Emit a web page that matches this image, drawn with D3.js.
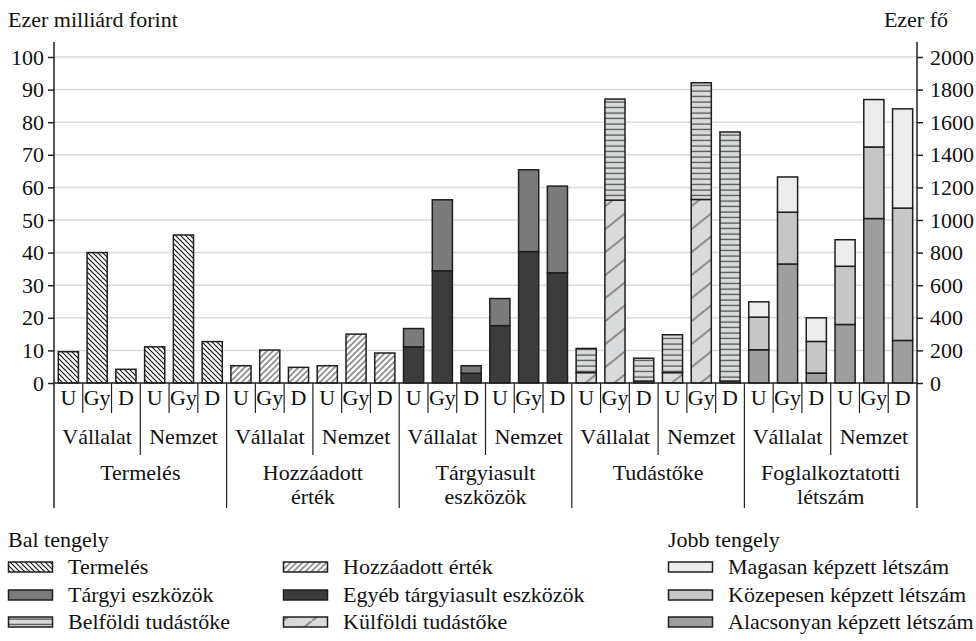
<!DOCTYPE html>
<html>
<head>
<meta charset="utf-8">
<script src="https://cdn.jsdelivr.net/npm/d3@7"></script>
<style>
  body { margin: 0; background: #fff; }
  svg text { font-family: "Liberation Serif", "Times New Roman", Tinos, "DejaVu Serif", serif; font-size: 22px; fill: #111; }
</style>
</head>
<body>
<div id="chart"></div>
<script>
// categories
const measures = [["Termelés"], ["Hozzáadott", "érték"], ["Tárgyiasult", "eszközök"], ["Tudástőke"], ["Foglalkoztatotti", "létszám"]]
const units = ["Vállalat", "Nemzet"]
const sizes = ["U", "Gy", "D"]
const leftTicks = [0, 10, 20, 30, 40, 50, 60, 70, 80, 90, 100]
const rightTicks = [0, 200, 400, 600, 800, 1000, 1200, 1400, 1600, 1800, 2000]

// values, order: Vállalat U, Gy, D, Nemzet U, Gy, D
const termeles = [9.6, 40.0, 4.2, 11.1, 45.4, 12.7]
const hozzaadott = [5.3, 10.1, 4.8, 5.3, 15.0, 9.2]
const egyebTargyi = [11.1, 34.4, 3.0, 17.6, 40.3, 33.8]
const targyiEszkoz = [5.6, 21.8, 2.3, 8.3, 25.1, 26.6]
const kulfoldi = [3.2, 56.1, 0.6, 3.2, 56.3, 0.6]
const belfoldi = [7.4, 31.0, 7.0, 11.6, 35.8, 76.4]
const alacsony = [204, 730, 61, 359, 1009, 261]
const kozepes = [200, 318, 194, 357, 439, 812]
const magas = [94, 216, 145, 163, 291, 609]

// stacks per measure, bottom first
const groups = [
  { axis: "left", series: [["Termelés", termeles]] },
  { axis: "left", series: [["Hozzáadott érték", hozzaadott]] },
  { axis: "left", series: [["Egyéb tárgyiasult eszközök", egyebTargyi], ["Tárgyi eszközök", targyiEszkoz]] },
  { axis: "left", series: [["Külföldi tudástőke", kulfoldi], ["Belföldi tudástőke", belfoldi]] },
  { axis: "right", series: [["Alacsonyan képzett létszám", alacsony], ["Közepesen képzett létszám", kozepes], ["Magasan képzett létszám", magas]] }
]

const legendCols = [
  { title: "Bal tengely", items: ["Termelés", "Tárgyi eszközök", "Belföldi tudástőke"] },
  { title: null, items: ["Hozzáadott érték", "Egyéb tárgyiasult eszközök", "Külföldi tudástőke"] },
  { title: "Jobb tengely", items: ["Magasan képzett létszám", "Közepesen képzett létszám", "Alacsonyan képzett létszám"] }
]

const fills = {
  "Termelés": "url(#p-termeles)",
  "Hozzáadott érték": "url(#p-hozza)",
  "Tárgyi eszközök": "#7b7b7b",
  "Egyéb tárgyiasult eszközök": "#3c3c3c",
  "Belföldi tudástőke": "url(#p-belfold)",
  "Külföldi tudástőke": "url(#p-kulfold)",
  "Magasan képzett létszám": "#ececec",
  "Közepesen képzett létszám": "#c6c6c6",
  "Alacsonyan képzett létszám": "#9e9e9e"
}

const width = 976, height = 641
const left = 54, right = 917, y0 = 383, y100 = 57, axisTop = 42, tableBottom = 508

const svg = d3.select("#chart").append("svg").attr("width", width).attr("height", height)

// patterns
const defs = svg.append("defs")
function pattern(id, w, h, bg, d, stroke, sw) {
  const p = defs.append("pattern").attr("id", id)
      .attr("patternUnits", "userSpaceOnUse").attr("width", w).attr("height", h)
  p.append("rect").attr("width", w).attr("height", h).attr("fill", bg)
  p.append("path").attr("d", d).attr("stroke", stroke).attr("stroke-width", sw).attr("fill", "none")
}
pattern("p-termeles", 5, 5, "#fff", "M-1,-1L6,6M-1,4L1,6M4,-1L6,1", "#111", 1.1)
pattern("p-hozza", 6, 6, "#fff", "M-1,7L7,-1M-1,1L1,-1M5,7L7,5", "#8c8c8c", 1.7)
pattern("p-kulfold", 28.77, 23, "#d9dadb", "M-2,24.6L30.77,-1.6", "#8a8a8a", 2)
pattern("p-belfold", 4, 5.5, "#d9dadb", "M0,3H4", "#2a2a2a", 1)

const keys = []
measures.forEach((m, mi) => units.forEach((u, ui) => sizes.forEach((s, si) => keys.push(mi + "-" + ui + "-" + si))))

const x = d3.scaleBand().domain(keys).range([left, right]).paddingInner(0.3).paddingOuter(0.15)
const step = x.step()
const yL = d3.scaleLinear().domain([0, 100]).range([y0, y100])
const yR = d3.scaleLinear().domain([0, 2000]).range([y0, y100])

// grid
svg.append("g")
    .attr("stroke", "#dadada")
    .attr("stroke-width", 1.5)
  .selectAll("line")
  .data(leftTicks.filter(d => d > 0))
  .enter().append("line")
    .attr("x1", left).attr("x2", right)
    .attr("y1", d => yL(d)).attr("y2", d => yL(d))

// bars
groups.forEach((g, mi) => {
  const y = g.axis === "left" ? yL : yR
  const rows = d3.range(6).map(i => {
    const r = { key: mi + "-" + Math.floor(i / 3) + "-" + (i % 3) }
    g.series.forEach(([name, vals]) => r[name] = vals[i])
    return r
  })
  const stack = d3.stack().keys(g.series.map(s => s[0]))(rows)
  svg.append("g")
    .selectAll("g")
    .data(stack)
    .enter().append("g")
      .attr("fill", d => fills[d.key])
      .attr("stroke", "#1e1e1e")
      .attr("stroke-width", 1.5)
    .selectAll("rect")
    .data(d => d)
    .enter().append("rect")
      .attr("x", d => x(d.data.key))
      .attr("width", x.bandwidth())
      .attr("y", d => y(d[1]))
      .attr("height", d => y(d[0]) - y(d[1]))
})

// axes
const axL = svg.append("g")
    .attr("transform", "translate(" + left + ",0)")
    .call(d3.axisLeft(yL).tickValues(leftTicks).tickSize(6).tickPadding(4))
axL.select(".domain").remove()
axL.selectAll("line").attr("stroke", "#222").attr("stroke-width", 1.5)

const axR = svg.append("g")
    .attr("transform", "translate(" + right + ",0)")
    .call(d3.axisRight(yR).tickValues(rightTicks).tickFormat(d3.format("d")).tickSize(6).tickPadding(7))
axR.select(".domain").remove()
axR.selectAll("line").attr("stroke", "#222").attr("stroke-width", 1.5)

// frame lines
const frame = svg.append("g").attr("stroke", "#222").attr("stroke-width", 1.5)
frame.append("line").attr("x1", left).attr("x2", right).attr("y1", y0).attr("y2", y0)
frame.append("line").attr("x1", left).attr("x2", left).attr("y1", axisTop).attr("y2", tableBottom)
frame.append("line").attr("x1", right).attr("x2", right).attr("y1", axisTop).attr("y2", tableBottom)

// category table dividers
frame.selectAll(".div")
  .data(d3.range(1, keys.length))
  .enter().append("line")
    .attr("stroke-width", 1.2)
    .attr("x1", i => left + i * step).attr("x2", i => left + i * step)
    .attr("y1", y0)
    .attr("y2", i => i % 6 === 0 ? tableBottom : (i % 3 === 0 ? 455 : 413))

// category labels
svg.append("g").attr("text-anchor", "middle")
  .selectAll("text")
  .data(keys)
  .enter().append("text")
    .attr("x", k => x(k) + x.bandwidth() / 2)
    .attr("y", 405)
    .text(k => sizes[+k.split("-")[2]])

const unitKeys = []
measures.forEach((m, mi) => units.forEach((u, ui) => unitKeys.push([mi, ui])))
svg.append("g").attr("text-anchor", "middle")
  .selectAll("text")
  .data(unitKeys)
  .enter().append("text")
    .attr("x", d => left + (d[0] * 6 + d[1] * 3 + 1.5) * step)
    .attr("y", 444)
    .text(d => units[d[1]])

svg.append("g").attr("text-anchor", "middle")
  .selectAll("text")
  .data(measures)
  .enter().append("text")
    .attr("x", (d, i) => left + (i * 6 + 3) * step)
    .attr("y", 480)
  .selectAll("tspan")
  .data(d => d)
  .enter().append("tspan")
    .attr("x", function() { return this.parentNode.getAttribute("x") })
    .attr("dy", (d, i) => i ? 24 : 0)
    .text(d => d)

// axis titles
svg.append("text").attr("x", 8).attr("y", 27).text("Ezer milliárd forint")
svg.append("text").attr("x", 948).attr("y", 27).attr("text-anchor", "end").text("Ezer fő")

// legend
const colX = [8, 283, 668]
const rowY = [567, 595, 622]
legendCols.forEach((c, ci) => {
  const g = svg.append("g").attr("transform", "translate(" + colX[ci] + ",0)")
  if (c.title) g.append("text").attr("y", 547).text(c.title)
  c.items.forEach((name, ri) => {
    g.append("rect")
        .attr("x", 0.5).attr("y", rowY[ri] - 5)
        .attr("width", 44).attr("height", 10)
        .attr("fill", fills[name])
        .attr("stroke", "#1e1e1e").attr("stroke-width", 1.5)
    g.append("text").attr("x", 60).attr("y", rowY[ri] + 7).text(name)
  })
})
</script>
</body>
</html>
